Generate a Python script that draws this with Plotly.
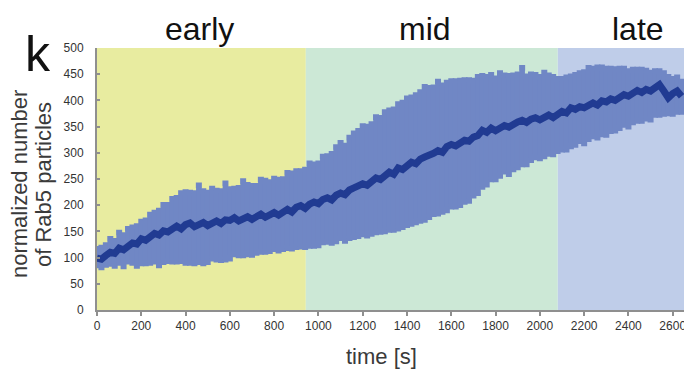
import plotly.graph_objects as go

# time points [s]
time_s = [
    0, 20, 40, 60, 80, 100, 120, 140, 160, 180,
    200, 220, 240, 260, 280, 300, 320, 340, 360, 380,
    400, 420, 440, 460, 480, 500, 520, 540, 560, 580,
    600, 620, 640, 660, 680, 700, 720, 740, 760, 780,
    800, 820, 840, 860, 880, 900, 920, 940, 960, 980,
    1000, 1020, 1040, 1060, 1080, 1100, 1120, 1140, 1160, 1180,
    1200, 1220, 1240, 1260, 1280, 1300, 1320, 1340, 1360, 1380,
    1400, 1420, 1440, 1460, 1480, 1500, 1520, 1540, 1560, 1580,
    1600, 1620, 1640, 1660, 1680, 1700, 1720, 1740, 1760, 1780,
    1800, 1820, 1840, 1860, 1880, 1900, 1920, 1940, 1960, 1980,
    2000, 2020, 2040, 2060, 2080, 2100, 2120, 2140, 2160, 2180,
    2200, 2220, 2240, 2260, 2280, 2300, 2320, 2340, 2360, 2380,
    2400, 2420, 2440, 2460, 2480, 2500, 2520, 2540, 2560, 2580,
    2600, 2620, 2640,
]

# normalized number of Rab5 particles (mean)
mean_rab5 = [
    99, 97, 104, 110, 108, 118, 115, 122, 128, 126,
    136, 133, 140, 146, 143, 151, 149, 156, 160, 155,
    163, 166, 159, 163, 167, 161, 166, 170, 165, 172,
    171, 176, 170, 174, 178, 173, 179, 183, 177, 182,
    186, 181, 188, 192, 187, 196, 199, 194, 202, 206,
    203, 211, 214, 210, 219, 223, 220, 229, 233, 236,
    241, 238, 247, 252, 249, 258, 263, 259, 271, 268,
    277, 282, 279, 288, 292, 294, 299, 304, 301, 312,
    316, 313, 320, 324, 322, 330, 333, 343, 339, 347,
    342, 348, 352, 349, 356, 359, 362, 358, 364, 367,
    363, 369, 372, 367, 375, 379, 376, 386, 383, 388,
    386, 392, 395, 391, 399, 397, 403, 400, 407, 411,
    408, 414, 419, 415, 421, 418, 424, 430, 418, 405,
    413, 418, 408,
]

# error bar extent above the mean
err_plus = [
    18, 22, 20, 26, 24, 30, 28, 33, 30, 34,
    33, 38, 42, 40, 47, 50, 52, 56, 54, 68,
    62, 58, 64, 75, 60, 63, 66, 58, 62, 70,
    60, 56, 63, 72, 61, 64, 58, 66, 70, 62,
    65, 68, 62, 70, 74, 69, 66, 74, 78, 72,
    77, 82, 80, 88, 92, 96, 94, 100, 104, 106,
    110, 112, 108, 116, 118, 120, 118, 124, 122, 128,
    127, 124, 131, 128, 134, 130, 126, 132, 128, 122,
    121, 124, 118, 115, 117, 108, 112, 104, 106, 102,
    100, 104, 96, 98, 92, 91, 100, 88, 86, 82,
    82, 84, 76, 78, 66, 62, 68, 60, 66, 64,
    68, 70, 66, 72, 64, 64, 58, 60, 54, 50,
    48, 45, 40, 44, 36, 35, 32, 26, 34, 40,
    28, 26, 28,
]

# error bar extent below the mean
err_minus = [
    14, 16, 18, 22, 24, 28, 32, 30, 38, 42,
    47, 44, 50, 54, 58, 60, 56, 64, 68, 62,
    73, 76, 70, 72, 78, 70, 68, 74, 70, 76,
    73, 70, 66, 70, 72, 68, 70, 72, 66, 70,
    70, 68, 72, 74, 70, 76, 78, 74, 80, 84,
    80, 82, 84, 82, 88, 86, 88, 92, 94, 95,
    97, 96, 102, 104, 100, 108, 110, 106, 116, 110,
    115, 118, 112, 118, 120, 117, 116, 120, 114, 122,
    119, 116, 120, 118, 114, 112, 110, 108, 100, 98,
    93, 92, 88, 90, 88, 87, 84, 80, 78, 76,
    74, 76, 74, 70, 72, 73, 70, 74, 68, 66,
    68, 66, 64, 62, 64, 63, 62, 58, 60, 58,
    58, 56, 58, 54, 56, 55, 52, 58, 44, 30,
    39, 40, 30,
]

# phase boundaries [s]
phase_names = ["early", "mid", "late"]
phase_start = [0, 943, 2081]
phase_end = [943, 2081, 2660]
phase_colors = ["#e8eca0", "#cce8d6", "#bfcde9"]

x_ticks = [0, 200, 400, 600, 800, 1000, 1200, 1400, 1600, 1800, 2000, 2200, 2400, 2600]
y_ticks = [0, 50, 100, 150, 200, 250, 300, 350, 400, 450, 500]

FONT = "Liberation Sans, Arial, sans-serif"

# page body margin offset compensation (px)
OFF = 8
W, H = 692, 376
PL, PR, PT, PB = 97 - OFF, 686 - OFF, 48 - OFF, 310 - OFF  # plot area in figure px
PW, PH = PR - PL, PB - PT


def px_x(px):
    return (px - OFF - PL) / PW


def px_y(py):
    return (PB - (py - OFF)) / PH


fig = go.Figure()

# error bars (band)
fig.add_trace(go.Scatter(
    x=time_s, y=mean_rab5, mode="markers",
    marker=dict(size=1, color="rgba(0,0,0,0)"),
    error_y=dict(type="data", symmetric=False, array=err_plus, arrayminus=err_minus,
                 color="#7087c5", thickness=5.6, width=3),
    hoverinfo="skip", showlegend=False,
))

# mean line
fig.add_trace(go.Scatter(
    x=time_s, y=mean_rab5, mode="lines",
    line=dict(color="#213b92", width=7),
    showlegend=False,
))

shapes = []
for x0, x1, c in zip(phase_start, phase_end, phase_colors):
    shapes.append(dict(type="rect", xref="x", yref="y", x0=x0, x1=x1, y0=0, y1=500,
                       fillcolor=c, line=dict(width=0), layer="below"))

annotations = []
title_x = [199, 425, 638]
for name, px in zip(phase_names, title_x):
    annotations.append(dict(text=name, xref="paper", yref="paper",
                            x=px_x(px), y=px_y(29),
                            xanchor="center", yanchor="middle", showarrow=False,
                            font=dict(family=FONT, size=32, color="#111111")))
annotations.append(dict(text="k", xref="paper", yref="paper",
                        x=px_x(38), y=px_y(54),
                        xanchor="center", yanchor="middle", showarrow=False,
                        font=dict(family=FONT, size=50, color="#111111")))
annotations.append(dict(text="normalized number", xref="paper", yref="paper",
                        x=px_x(19), y=px_y(184), textangle=-90,
                        xanchor="center", yanchor="middle", showarrow=False,
                        font=dict(family=FONT, size=22, color="#3a3a3a")))
annotations.append(dict(text="of Rab5 particles", xref="paper", yref="paper",
                        x=px_x(44), y=px_y(185), textangle=-90,
                        xanchor="center", yanchor="middle", showarrow=False,
                        font=dict(family=FONT, size=22, color="#3a3a3a")))
annotations.append(dict(text="time [s]", xref="paper", yref="paper",
                        x=px_x(381), y=px_y(356),
                        xanchor="center", yanchor="middle", showarrow=False,
                        font=dict(family=FONT, size=22, color="#3a3a3a")))

fig.update_layout(
    width=W, height=H,
    margin=dict(l=PL, r=W - PR, t=PT, b=H - PB, autoexpand=False),
    paper_bgcolor="white", plot_bgcolor="white",
    shapes=shapes, annotations=annotations,
    xaxis=dict(range=[0, 2660], tickvals=x_ticks, showgrid=False, zeroline=False,
               showline=True, linecolor="#8f8f8f", linewidth=2,
               ticks="outside", ticklen=4, tickcolor="#8f8f8f", tickwidth=1.5,
               automargin=False,
               tickfont=dict(family=FONT, size=12, color="#333333")),
    yaxis=dict(range=[0, 500], tickvals=y_ticks, showgrid=False, zeroline=False,
               showline=True, linecolor="#8f8f8f", linewidth=2,
               ticks="inside", ticklen=3, tickcolor="#8f8f8f", tickwidth=1.5,
               ticklabelstandoff=9, automargin=False,
               tickfont=dict(family=FONT, size=12, color="#333333")),
    font=dict(family=FONT),
)

fig.write_html("out.html")
